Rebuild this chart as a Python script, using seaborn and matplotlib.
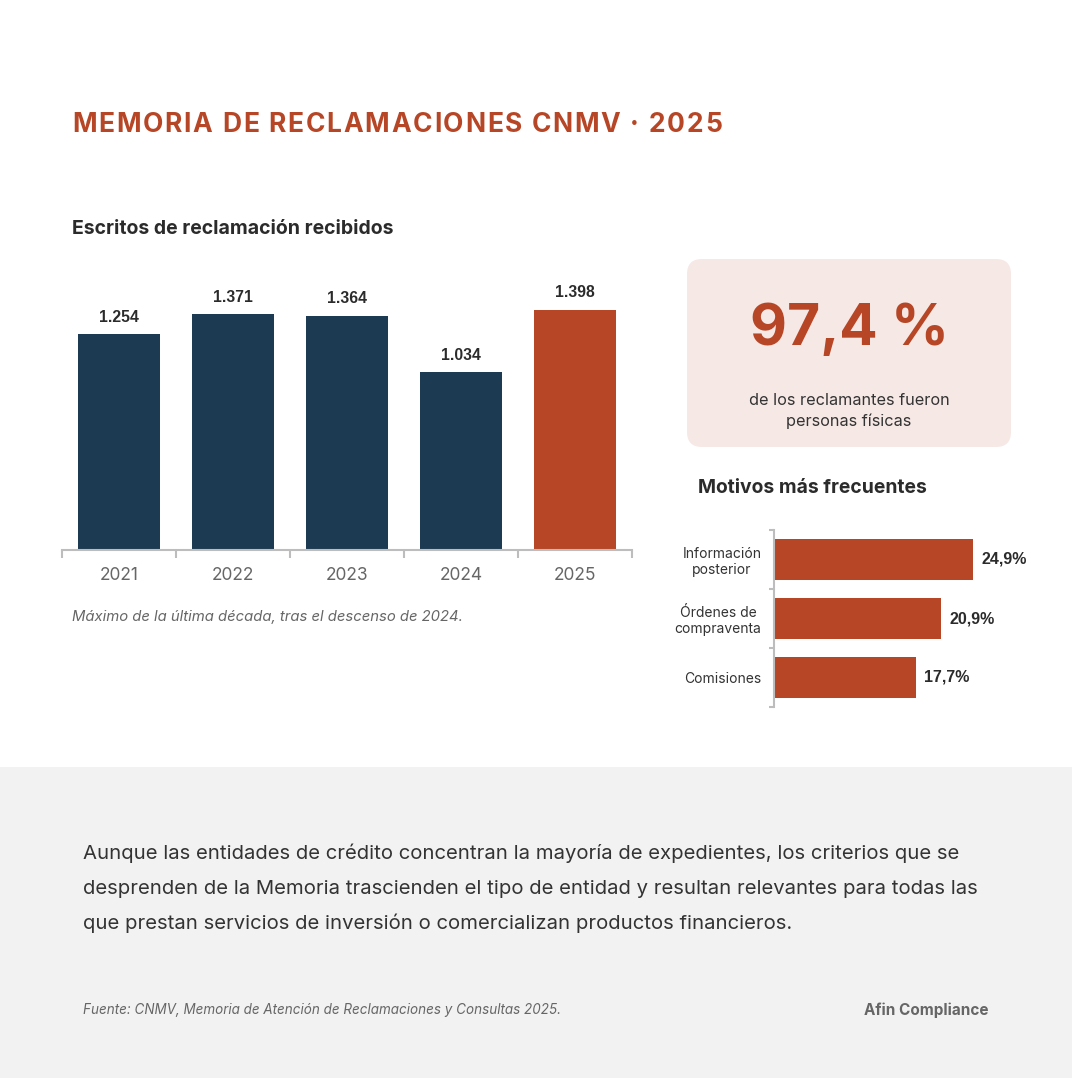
import numpy as np
import pandas as pd
import seaborn as sns
import matplotlib.pyplot as plt
from matplotlib.patches import Rectangle, FancyBboxPatch

# Datos
anios = ["2021", "2022", "2023", "2024", "2025"]
escritos = [1254, 1371, 1364, 1034, 1398]
etiquetas_escritos = ["1.254", "1.371", "1.364", "1.034", "1.398"]

motivos = ["Información\nposterior", "Órdenes de\ncompraventa", "Comisiones"]
porcentajes = [24.9, 20.9, 17.7]
etiquetas_motivos = ["24,9%", "20,9%", "17,7%"]

titulo = "MEMORIA DE RECLAMACIONES CNMV · 2025"
parrafo = ["Aunque las entidades de crédito concentran la mayoría de expedientes, los criterios que se",
           "desprenden de la Memoria trascienden el tipo de entidad y resultan relevantes para todas las",
           "que prestan servicios de inversión o comercializan productos financieros."]

NAVY = "#1C3A52"
RUST = "#B64626"
W, H = 1072, 1078

sns.set_theme(style="white")
plt.rcParams["font.family"] = ["Inter", "DejaVu Sans"]

fig = plt.figure(figsize=(W / 100, H / 100), dpi=100)
fig.patch.set_facecolor("white")
renderer = fig.canvas.get_renderer()


def fx(x):
    return x / W


def fy(y):
    return 1 - y / H


def px_axes(x0, y0, x1, y1):
    return fig.add_axes([fx(x0), fy(y1), (x1 - x0) / W, (y1 - y0) / H])


def ancho(s, **kw):
    t = fig.text(0, 0, s, **kw)
    w = t.get_window_extent(renderer).width
    t.remove()
    return w


# fondo gris inferior
fig.patches.append(Rectangle((0, 0), 1, fy(767), transform=fig.transFigure,
                             facecolor="#F2F2F2", edgecolor="none", zorder=0))
# caja rosa
fig.patches.append(FancyBboxPatch((fx(687), fy(447)), (1011 - 687) / W, (447 - 259) / H,
                                  boxstyle="round,pad=0,rounding_size=0.014",
                                  transform=fig.transFigure, facecolor="#F6E8E5",
                                  edgecolor="none", zorder=0))

# Titulo con espaciado entre letras
estilo_t = dict(fontsize=19, fontweight="bold", color=RUST)
base = ancho("H", **estilo_t)
natural = ancho(titulo, **estilo_t)
extra = (650 - natural) / (len(titulo) - 1)
for i, ch in enumerate(titulo):
    x = 72 + (ancho(titulo[:i] + "H", **estilo_t) - base if i else 0) + i * extra
    fig.text(fx(x), fy(125), ch, va="center", ha="left", **estilo_t)

fig.text(fx(72), fy(229), "Escritos de reclamación recibidos", fontsize=14,
         fontweight="bold", color="#2B2B2B", va="center")

# Grafico de barras verticales
ax = px_axes(62, 275, 632, 550)
df = pd.DataFrame({"anio": anios, "escritos": escritos})
colores = [NAVY, NAVY, NAVY, NAVY, RUST]
sns.barplot(data=df, x="anio", y="escritos", hue="anio", palette=colores,
            legend=False, width=0.72, ax=ax, saturation=1, linewidth=0)
ax.set_ylim(0, 1600)
ax.set_xlim(-0.5, 4.5)
ax.set_facecolor("none")
for s in ["top", "right", "left"]:
    ax.spines[s].set_visible(False)
ax.spines["bottom"].set_color("#BDBDBD")
ax.spines["bottom"].set_linewidth(1.5)
ax.set_yticks([])
ax.set_xlabel("")
ax.set_ylabel("")
ax.set_xticks(np.arange(-0.5, 5, 1))
ax.set_xticklabels([])
ax.tick_params(axis="x", which="major", bottom=True, length=6, width=1.5,
               color="#BDBDBD", direction="out")
ax.set_xticks(range(len(anios)), minor=True)
ax.set_xticklabels(anios, minor=True)
ax.tick_params(axis="x", which="minor", bottom=True, length=0, pad=12,
               labelsize=12.5, labelcolor="#666666")
for i, (v, lab) in enumerate(zip(escritos, etiquetas_escritos)):
    ax.annotate(lab, (i, v), xytext=(0, 7), textcoords="offset points", ha="center",
                va="bottom", fontsize=11.3, fontweight="bold", color="#2B2B2B",
                family=["Liberation Sans", "DejaVu Sans"])

fig.text(fx(72), fy(617), "Máximo de la última década, tras el descenso de 2024.",
         fontsize=10.7, style="italic", color="#666666", va="center")

# Caja de dato destacado
fig.text(fx(849), fy(330), "97,4 %", fontsize=41, fontweight="bold", color=RUST,
         ha="center", va="center")
fig.text(fx(849), fy(411), "de los reclamantes fueron\npersonas físicas", fontsize=11.7,
         color="#333333", ha="center", va="center", linespacing=1.5)

# Motivos
fig.text(fx(698), fy(488), "Motivos más frecuentes", fontsize=13.9, fontweight="bold",
         color="#2B2B2B", va="center")
ax2 = px_axes(774, 530, 1014, 707)
dm = pd.DataFrame({"motivo": motivos, "pct": porcentajes})
sns.barplot(data=dm, x="pct", y="motivo", color=RUST, saturation=1, width=0.68,
            orient="h", ax=ax2, linewidth=0)
ax2.set_xlim(0, 30)
ax2.set_ylim(2.5, -0.5)
ax2.set_facecolor("none")
for s in ["top", "right", "bottom"]:
    ax2.spines[s].set_visible(False)
ax2.spines["left"].set_color("#BDBDBD")
ax2.spines["left"].set_linewidth(1.5)
ax2.set_xticks([])
ax2.set_xlabel("")
ax2.set_ylabel("")
ax2.set_yticks(np.arange(-0.5, 3, 1))
ax2.set_yticklabels([])
ax2.tick_params(axis="y", which="major", left=True, length=3.5, width=1.5,
                color="#BDBDBD", direction="out")
ax2.set_yticks(range(len(motivos)), minor=True)
ax2.set_yticklabels(motivos, minor=True)
ax2.tick_params(axis="y", which="minor", left=True, length=0, pad=9,
                labelsize=10, labelcolor="#333333")
for lab in ax2.get_yticklabels(minor=True):
    lab.set_multialignment("center")
for i, (v, lab) in enumerate(zip(porcentajes, etiquetas_motivos)):
    ax2.annotate(lab, (v, i), xytext=(6, 0), textcoords="offset points", ha="left",
                 va="center", fontsize=11.5, fontweight="bold", color="#2B2B2B",
                 family=["Liberation Sans", "DejaVu Sans"])

# Texto inferior, una linea cada vez
for k, linea in enumerate(parrafo):
    fig.text(fx(83), fy(859 + 35 * k), linea, fontsize=14.6, color="#333333",
             va="baseline", ha="left")
fig.text(fx(83), fy(1010), "Fuente: CNMV, Memoria de Atención de Reclamaciones y Consultas 2025.",
         fontsize=9.7, style="italic", color="#666666", va="center")
fig.text(fx(989), fy(1010), "Afin Compliance", fontsize=11, fontweight="bold",
         color="#666666", va="center", ha="right")

fig.savefig("out.png", dpi=100)
